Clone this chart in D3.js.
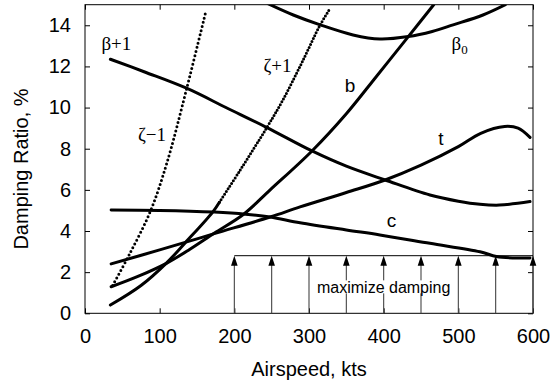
<!DOCTYPE html>
<html>
<head>
<meta charset="utf-8">
<script src="https://cdn.jsdelivr.net/npm/d3@7"></script>
<style>
  html, body { margin: 0; padding: 0; background: #fff; }
  svg { display: block; }
</style>
</head>
<body>
<div id="chart"></div>
<script>
// ---------------- data ----------------
const xTicks = [0, 100, 200, 300, 400, 500, 600];
const yTicks = [0, 2, 4, 6, 8, 10, 12, 14];

const betaPlus1 = [[34,12.35],[80,11.73],[136,10.94],[190,9.98],[243,9.04],[304,7.89],[350,7.15],[402,6.48],[462,5.75],[500,5.45],[529,5.30],[555,5.26],[596,5.43]];
const beta0     = [[245,15.05],[279,14.5],[315,14.02],[359,13.53],[395,13.33],[433,13.45],[465,13.7],[493,14.02],[533,14.5],[563,15.0]];
const bMode     = [[35,1.29],[70,1.78],[109,2.43],[140,3.1],[173,3.89],[212,4.8],[248,6.0],[304,7.89],[350,9.7],[390,11.5],[433,13.45],[467,15.0]];
const tMode     = [[35,2.40],[100,3.08],[173,3.87],[248,4.68],[288,5.17],[350,5.87],[402,6.48],[450,7.2],[500,8.1],[530,8.75],[562,9.08],[580,9.0],[596,8.55]];
const cMode     = [[35,5.02],[100,5.0],[173,4.92],[215,4.82],[248,4.68],[288,4.4],[350,4.05],[395,3.81],[462,3.40],[529,2.99],[551,2.76],[575,2.69],[596,2.69]];
const zetaPlus1 = [[34,0.40],[75,1.35],[109,2.44],[134,3.42],[171,4.92],[180,5.4],[208,6.97],[243,9.0],[265,10.37],[290,12.15],[315,14.02],[328,14.8]];
const zetaMinus1= [[37,1.35],[60,2.9],[88,5.0],[110,7.35],[136,10.9],[162,14.7]];
const zetaPlusDotFrom = 180;

const arrowX = [200, 250, 300, 350, 400, 450, 500, 550, 600];
const arrowTop = 2.8;

const curveLabels = [
  {text: "β+1", x: 22, y: 12.8, serif: true},
  {text: "ζ−1", x: 71, y: 8.38, serif: true},
  {text: "ζ+1", x: 239, y: 11.73, serif: true},
  {text: "b",   x: 348, y: 10.78, serif: false},
  {text: "t",   x: 473, y: 8.18, serif: false},
  {text: "c",   x: 404, y: 4.18, serif: false}
];
const beta0Label = {x: 491, y: 12.8};
const noteLabel = {text: "maximize damping", x: 400, y: 0.97};

// ---------------- layout ----------------
const W = 555, H = 387;
const m = {left: 85, top: 4.7, right: 22, bottom: 73.7};
const iw = W - m.left - m.right, ih = H - m.top - m.bottom;
const SANS = "'Liberation Sans', Arial, Helvetica, sans-serif";
const SERIF = "'Liberation Serif', 'Times New Roman', serif";

const svg = d3.select("#chart").append("svg").attr("width", W).attr("height", H)
  .style("font-family", SANS);
const g = svg.append("g").attr("transform", `translate(${m.left},${m.top})`);

const x = d3.scaleLinear().domain([0, 600]).range([0, iw]);
const y = d3.scaleLinear().domain([0, 15]).range([ih, 0]);

svg.append("defs").append("clipPath").attr("id", "clip")
  .append("rect").attr("x", 0).attr("y", 0).attr("width", iw).attr("height", ih);

// axes
const fs = 20;
const xAxis = g.append("g").attr("transform", `translate(0,${ih})`)
  .call(d3.axisBottom(x).tickValues(xTicks).tickSizeInner(-5).tickSizeOuter(0).tickPadding(15.5));
const xAxisTop = g.append("g")
  .call(d3.axisTop(x).tickValues(xTicks).tickSizeInner(-5).tickSizeOuter(0).tickFormat(""));
const yAxis = g.append("g")
  .call(d3.axisLeft(y).tickValues(yTicks).tickSizeInner(-5).tickSizeOuter(0).tickPadding(14));
const yAxisR = g.append("g").attr("transform", `translate(${iw},0)`)
  .call(d3.axisRight(y).tickValues(yTicks).tickSizeInner(-5).tickSizeOuter(0).tickFormat(""));
[xAxis, xAxisTop, yAxis, yAxisR].forEach(a => {
  a.attr("font-family", null).attr("font-size", null);
  a.select(".domain").remove();
  a.selectAll("text").style("font-size", fs + "px").style("font-family", SANS).attr("fill", "#000");
  a.selectAll("line").attr("stroke", "#000");
});

// frame
g.append("rect").attr("x", 0).attr("y", 0).attr("width", iw).attr("height", ih)
  .attr("fill", "none").attr("stroke", "#000").attr("stroke-width", 1);

// axis titles
svg.append("text").attr("x", m.left + x(300)).attr("y", 376)
  .attr("text-anchor", "middle").style("font-size", fs + "px").text("Airspeed, kts");
svg.append("text").attr("transform", `translate(28,${m.top + ih/2 + 10}) rotate(-90)`)
  .attr("text-anchor", "middle").style("font-size", fs + "px").text("Damping Ratio, %");

// arrows "maximize damping"
const ann = g.append("g");
ann.selectAll("line.v").data(arrowX).join("line")
  .attr("x1", d => x(d)).attr("x2", d => x(d))
  .attr("y1", y(0)).attr("y2", y(arrowTop) + 6)
  .attr("stroke", "#444").attr("stroke-width", 1.1);
ann.append("line").attr("x1", x(arrowX[0])).attr("x2", x(arrowX[arrowX.length-1]))
  .attr("y1", y(arrowTop)).attr("y2", y(arrowTop)).attr("stroke", "#000").attr("stroke-width", 1);
ann.selectAll("path.head").data(arrowX).join("path")
  .attr("d", d => `M${x(d)},${y(arrowTop)} L${x(d)-3.3},${y(arrowTop)+10} L${x(d)+3.3},${y(arrowTop)+10} Z`)
  .attr("fill", "#000");
const note = ann.append("text").attr("x", x(noteLabel.x)).attr("y", y(noteLabel.y))
  .attr("text-anchor", "middle").style("font-size", "16px").text(noteLabel.text);
const bb = note.node().getBBox();
ann.insert("rect", "text").attr("x", bb.x - 6).attr("y", bb.y + 1).attr("width", bb.width + 12).attr("height", bb.height - 4)
  .attr("fill", "#fff");

// curves
const line = d3.line().x(d => x(d[0])).y(d => y(d[1])).curve(d3.curveCatmullRom.alpha(0.5));
const curves = g.append("g").attr("clip-path", "url(#clip)");
const solid = (data) => curves.append("path").datum(data).attr("d", line)
  .attr("fill", "none").attr("stroke", "#000").attr("stroke-width", 3).attr("stroke-linejoin", "round").attr("stroke-linecap", "round");
const dotted = (data, gap, w) => curves.append("path").datum(data).attr("d", line)
  .attr("fill", "none").attr("stroke", "#000").attr("stroke-width", w)
  .attr("stroke-dasharray", `0 ${gap}`).attr("stroke-linecap", "round");

solid(betaPlus1);
solid(beta0);
solid(bMode);
solid(tMode);
solid(cMode);
solid(zetaPlus1.filter(d => d[0] <= zetaPlusDotFrom));
dotted(zetaPlus1.filter(d => d[0] >= zetaPlusDotFrom), 3.2, 3);
dotted(zetaMinus1, 4.3, 3);

// curve labels
g.selectAll("text.cl").data(curveLabels).join("text")
  .attr("class", "cl")
  .attr("x", d => x(d.x)).attr("y", d => y(d.y))
  .style("font-size", "19px")
  .style("font-family", d => d.serif ? SERIF : SANS)
  .text(d => d.text);
const b0 = g.append("text").attr("x", x(beta0Label.x)).attr("y", y(beta0Label.y))
  .style("font-size", "19px").style("font-family", SERIF);
b0.append("tspan").text("β");
b0.append("tspan").style("font-size", "13px").attr("dy", 4).text("0");
</script>
</body>
</html>
